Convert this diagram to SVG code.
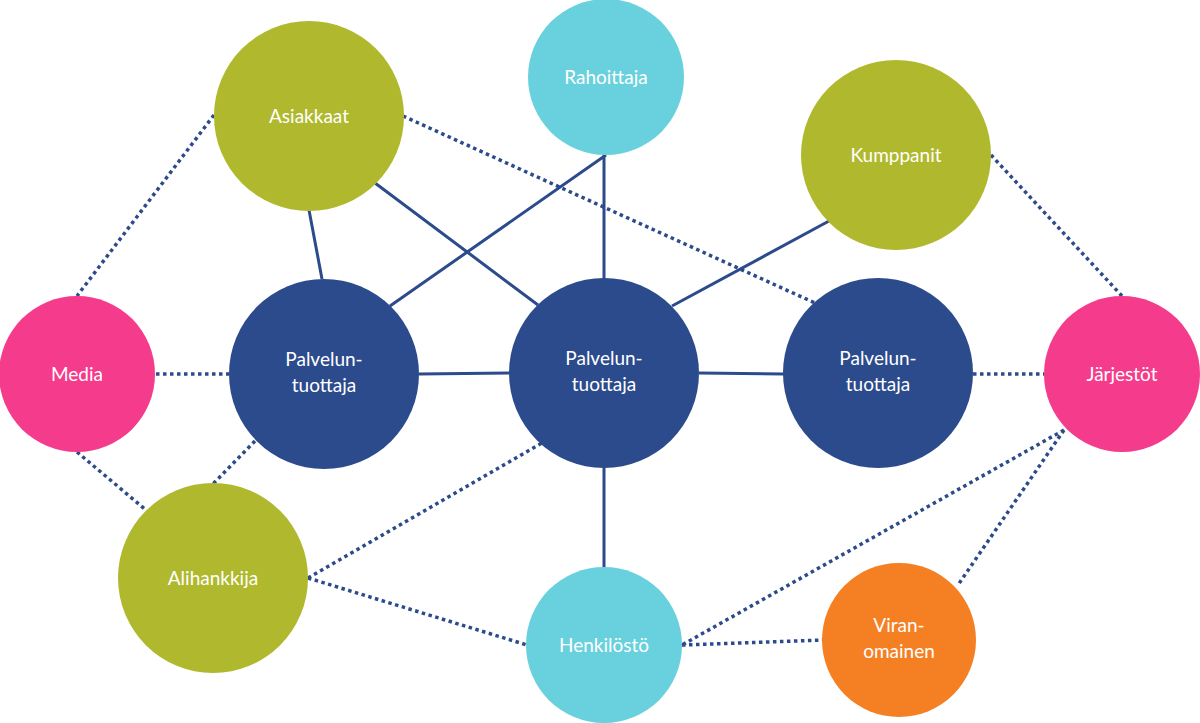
<svg xmlns="http://www.w3.org/2000/svg" width="1200" height="723" viewBox="0 0 1200 723">
<style>
.s{stroke:#2c4b8c;stroke-width:3;fill:none}
.d{stroke:#2c4b8c;stroke-width:3.5;fill:none;stroke-dasharray:3.5 3.5}
.o{fill:#b0b92d}.c{fill:#68d1dd}.b{fill:#2c4b8c}.p{fill:#f53b8c}.r{fill:#f58024}
text{font-family:"Lato","Liberation Sans",sans-serif;font-size:19px;fill:#fff;text-anchor:middle}
</style>
<rect width="1200" height="723" fill="#fff"/>
<g id="connectors">
<path class="s" d="M309 210L322 279M375 183L538 305M606 155L390 306M604 155L604 279M829 221L672 306M419 374L510 373M699 373L784 374M604 468L604 567"/>
<path class="d" d="M214 115L77 296M403 116L815 303M156 374L229 374M77 452L146 510M255 441L213 484M308 578L542 443M308 578L527 645M991 155L1122 296M973 374L1044 374M1064 430L682 645M1064 430L958 585M682 645L825 640"/>
</g>
<g id="asiakkaat"><circle class="o" cx="309" cy="116" r="95"/><text x="309" y="123">Asiakkaat</text></g>
<g id="rahoittaja"><circle class="c" cx="606" cy="77" r="78"/><text x="606" y="84">Rahoittaja</text></g>
<g id="kumppanit"><circle class="o" cx="896" cy="155" r="95"/><text x="896" y="162">Kumppanit</text></g>
<g id="media"><circle class="p" cx="77" cy="374" r="78"/><text x="77" y="381">Media</text></g>
<g id="p1"><circle class="b" cx="324" cy="374" r="95"/><text x="324" y="366">Palvelun-</text><text x="324" y="392">tuottaja</text></g>
<g id="p2"><circle class="b" cx="604" cy="373" r="95"/><text x="604" y="365">Palvelun-</text><text x="604" y="391">tuottaja</text></g>
<g id="p3"><circle class="b" cx="878" cy="373" r="95"/><text x="878" y="365">Palvelun-</text><text x="878" y="391">tuottaja</text></g>
<g id="jarjestot"><circle class="p" cx="1122" cy="374" r="78"/><text x="1122" y="381">Järjestöt</text></g>
<g id="alihankkija"><circle class="o" cx="213" cy="578" r="95"/><text x="213" y="585">Alihankkija</text></g>
<g id="henkilosto"><circle class="c" cx="604" cy="645" r="78"/><text x="604" y="652">Henkilöstö</text></g>
<g id="viranomainen"><circle class="r" cx="899" cy="640" r="77"/><text x="899" y="632">Viran-</text><text x="899" y="658">omainen</text></g>
</svg>
